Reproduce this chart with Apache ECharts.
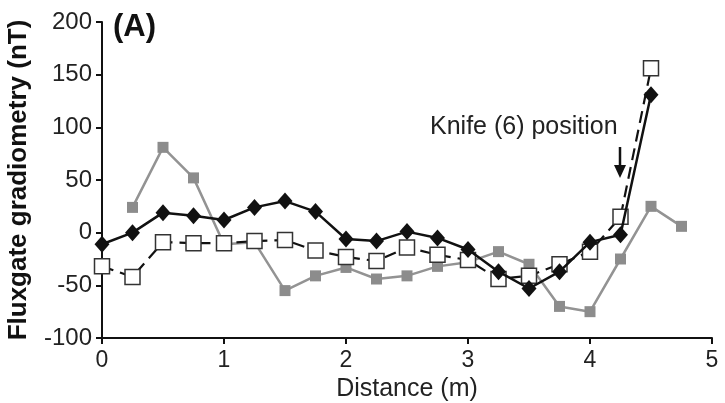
<!DOCTYPE html>
<html>
<head>
<meta charset="utf-8">
<script src="https://cdn.jsdelivr.net/npm/echarts@6/dist/echarts.min.js"></script>
<style>
html,body{margin:0;padding:0;background:#fff;}
#chart{width:725px;height:403px;}
</style>
</head>
<body>
<div id="chart"></div>
<script>
// distance along the line (m)
var distances = [0, 0.25, 0.5, 0.75, 1, 1.25, 1.5, 1.75, 2, 2.25, 2.5, 2.75, 3, 3.25, 3.5, 3.75, 4, 4.25, 4.5, 4.75];
// black diamonds, solid line
var solidVals = [-11, 0, 19, 16, 12, 24, 30, 20, -6, -8, 1, -5, -16, -37, -53, -37, -9, -2, 131, null];
// open squares, dashed line
var openVals = [-32, -42, -9, -10, -10, -8, -7, -17, -23, -27, -14, -21, -26, -44, -41, -30, -18, 15, 156, null];
// grey squares
var greyVals = [null, 24, 81, 52, -11, -9, -55, -41, -33, -44, -41, -32, -28, -18, -30, -70, -75, -25, 25, 6];

var xTicks = [0, 1, 2, 3, 4, 5];
var yTicks = [-100, -50, 0, 50, 100, 150, 200];

function pairs(vals){
	var out = [];
	for(var i=0;i<distances.length;i++){
		if(vals[i] !== null) out.push([distances[i], vals[i]]);
	}
	return out;
}

var font = 'Liberation Sans, Arial, sans-serif';
var myChart = echarts.init(document.getElementById('chart'));

var option = {
	animation: false,
	grid: { left: 102, right: 13, top: 22, bottom: 65, outerBoundsMode: 'none' },
	xAxis: {
		type: 'value',
		min: xTicks[0], max: xTicks[xTicks.length-1], interval: 1,
		name: 'Distance (m)', nameLocation: 'middle', nameGap: 34,
		nameTextStyle: { fontFamily: font, fontSize: 25, color: '#222' },
		axisLine: { show: true, onZero: false, lineStyle: { color: '#111', width: 2 } },
		axisTick: { show: true, length: 6, lineStyle: { color: '#111', width: 2 } },
		axisLabel: { fontFamily: font, fontSize: 23, color: '#222', margin: 11 },
		splitLine: { show: false }
	},
	yAxis: {
		type: 'value',
		min: yTicks[0], max: yTicks[yTicks.length-1], interval: 50,
		name: 'Fluxgate gradiometry (nT)', nameLocation: 'middle', nameGap: 70,
		nameTextStyle: { fontFamily: font, fontSize: 26, fontWeight: 'bold', color: '#111' },
		axisLine: { show: true, onZero: false, lineStyle: { color: '#111', width: 2 } },
		axisTick: { show: true, length: 6, lineStyle: { color: '#111', width: 2 } },
		axisLabel: { fontFamily: font, fontSize: 24, color: '#222', margin: 10 },
		splitLine: { show: false }
	},
	graphic: [
		{ type: 'text', left: 113, top: 12, style: { text: '(A)', font: 'bold 31px ' + font, fill: '#111' } },
		{ type: 'text', left: 430, top: 115, style: { text: 'Knife (6) position', font: '25px ' + font, fill: '#222' } },
		{ type: 'line', shape: { x1: 620, y1: 147, x2: 620, y2: 170 }, style: { stroke: '#111', lineWidth: 2.5 } },
		{ type: 'polygon', shape: { points: [[614, 165], [626, 165], [620, 178]] }, style: { fill: '#111' } }
	],
	series: [
		{
			type: 'line', data: pairs(greyVals),
			symbol: 'rect', symbolSize: 11,
			itemStyle: { color: '#8c8c8c' },
			lineStyle: { color: '#939393', width: 2.5 },
			z: 2
		},
		{
			type: 'line', data: pairs(openVals),
			symbol: 'rect', symbolSize: 15,
			itemStyle: { color: '#fff', borderColor: '#333', borderWidth: 1.5 },
			lineStyle: { color: '#111', width: 2.2, type: [12, 7] },
			z: 3
		},
		{
			type: 'line', data: pairs(solidVals),
			symbol: 'diamond', symbolSize: [15, 17],
			itemStyle: { color: '#111' },
			lineStyle: { color: '#111', width: 2.5 },
			z: 4
		}
	]
};
myChart.setOption(option);
</script>
</body>
</html>
